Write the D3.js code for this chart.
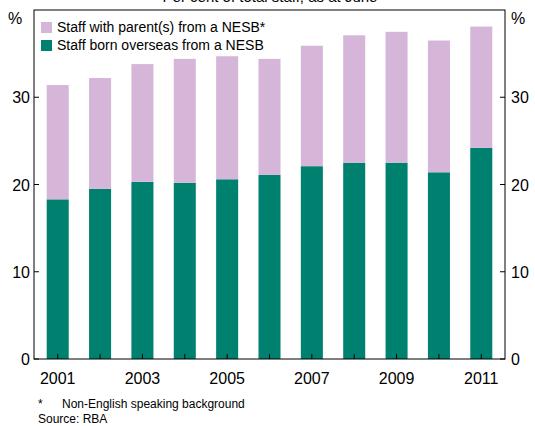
<!doctype html>
<html><head><meta charset="utf-8">
<script src="https://d3js.org/d3.v7.min.js"></script>
<style>body{margin:0;background:#fff;font-family:Arial,"Liberation Sans",sans-serif}</style>
</head><body><div id="c"></div>
<script>
const years = ['2001','2002','2003','2004','2005','2006','2007','2008','2009','2010','2011'];
const bornOverseas = [18.3,19.5,20.3,20.2,20.6,21.1,22.1,22.5,22.5,21.4,24.2];
const parentNesb = [13.1,12.7,13.5,14.2,14.1,13.3,13.8,14.6,15.0,15.1,13.9];
const yTicks = [0,10,20,30];
const xLabels = ['2001','2003','2005','2007','2009','2011'];

const W = 535, H = 426, L = 34, R = 505, T = 10, B = 359;
const svg = d3.select('#c').append('svg').attr('width', W).attr('height', H)
  .style('font-family', 'Arial, "Liberation Sans", sans-serif');

const x = d3.scaleBand().domain(years).range([L, R]).paddingInner(0.48).paddingOuter(0.3);
const y = d3.scaleLinear().domain([0, 40]).range([B, T]);

const g = svg.append('g');
years.forEach((yr, i) => {
  g.append('rect').attr('x', x(yr)).attr('width', x.bandwidth())
    .attr('y', y(bornOverseas[i])).attr('height', B - y(bornOverseas[i])).attr('fill', '#00806e');
  const top = bornOverseas[i] + parentNesb[i];
  g.append('rect').attr('x', x(yr)).attr('width', x.bandwidth())
    .attr('y', y(top)).attr('height', y(bornOverseas[i]) - y(top)).attr('fill', '#d5b6d8');
});

svg.append('rect').attr('x', L).attr('y', T).attr('width', R - L).attr('height', B - T)
  .attr('fill', 'none').attr('stroke', '#000').attr('stroke-width', 1);

yTicks.forEach(t => {
  svg.append('line').attr('x1', L).attr('x2', L + 5).attr('y1', y(t)).attr('y2', y(t)).attr('stroke', '#000');
  svg.append('line').attr('x1', R - 5).attr('x2', R).attr('y1', y(t)).attr('y2', y(t)).attr('stroke', '#000');
  svg.append('text').attr('x', L - 4).attr('y', y(t) + 6).attr('text-anchor', 'end').attr('font-size', 16).text(t);
  svg.append('text').attr('x', R + 6).attr('y', y(t) + 6).attr('font-size', 16).text(t);
});
svg.append('text').attr('x', 8).attr('y', 24).attr('font-size', 16).text('%');
svg.append('text').attr('x', 511).attr('y', 24).attr('font-size', 16).text('%');

years.forEach(yr => {
  const cx = x(yr) + x.bandwidth() / 2;
  svg.append('line').attr('x1', cx).attr('x2', cx).attr('y1', B).attr('y2', B - 5).attr('stroke', '#000');
});
xLabels.forEach(yr => {
  svg.append('text').attr('x', x(yr) + x.bandwidth() / 2).attr('y', B + 25)
    .attr('text-anchor', 'middle').attr('font-size', 16).text(yr);
});

svg.append('text').attr('x', 270).attr('y', 2).attr('text-anchor', 'middle').attr('font-size', 15)
  .text('Per cent of total staff, as at June');

const leg = [['Staff with parent(s) from a NESB*', '#d5b6d8'], ['Staff born overseas from a NESB', '#00806e']];
leg.forEach((d, i) => {
  svg.append('rect').attr('x', 41).attr('y', 22 + i * 18).attr('width', 11).attr('height', 11).attr('fill', d[1]);
  svg.append('text').attr('x', 57).attr('y', 32 + i * 18).attr('font-size', 14).text(d[0]);
});

svg.append('text').attr('x', 38).attr('y', 408).attr('font-size', 12).text('*');
svg.append('text').attr('x', 62).attr('y', 408).attr('font-size', 12).text('Non-English speaking background');
svg.append('text').attr('x', 38).attr('y', 423).attr('font-size', 12).text('Source: RBA');
</script></body></html>
